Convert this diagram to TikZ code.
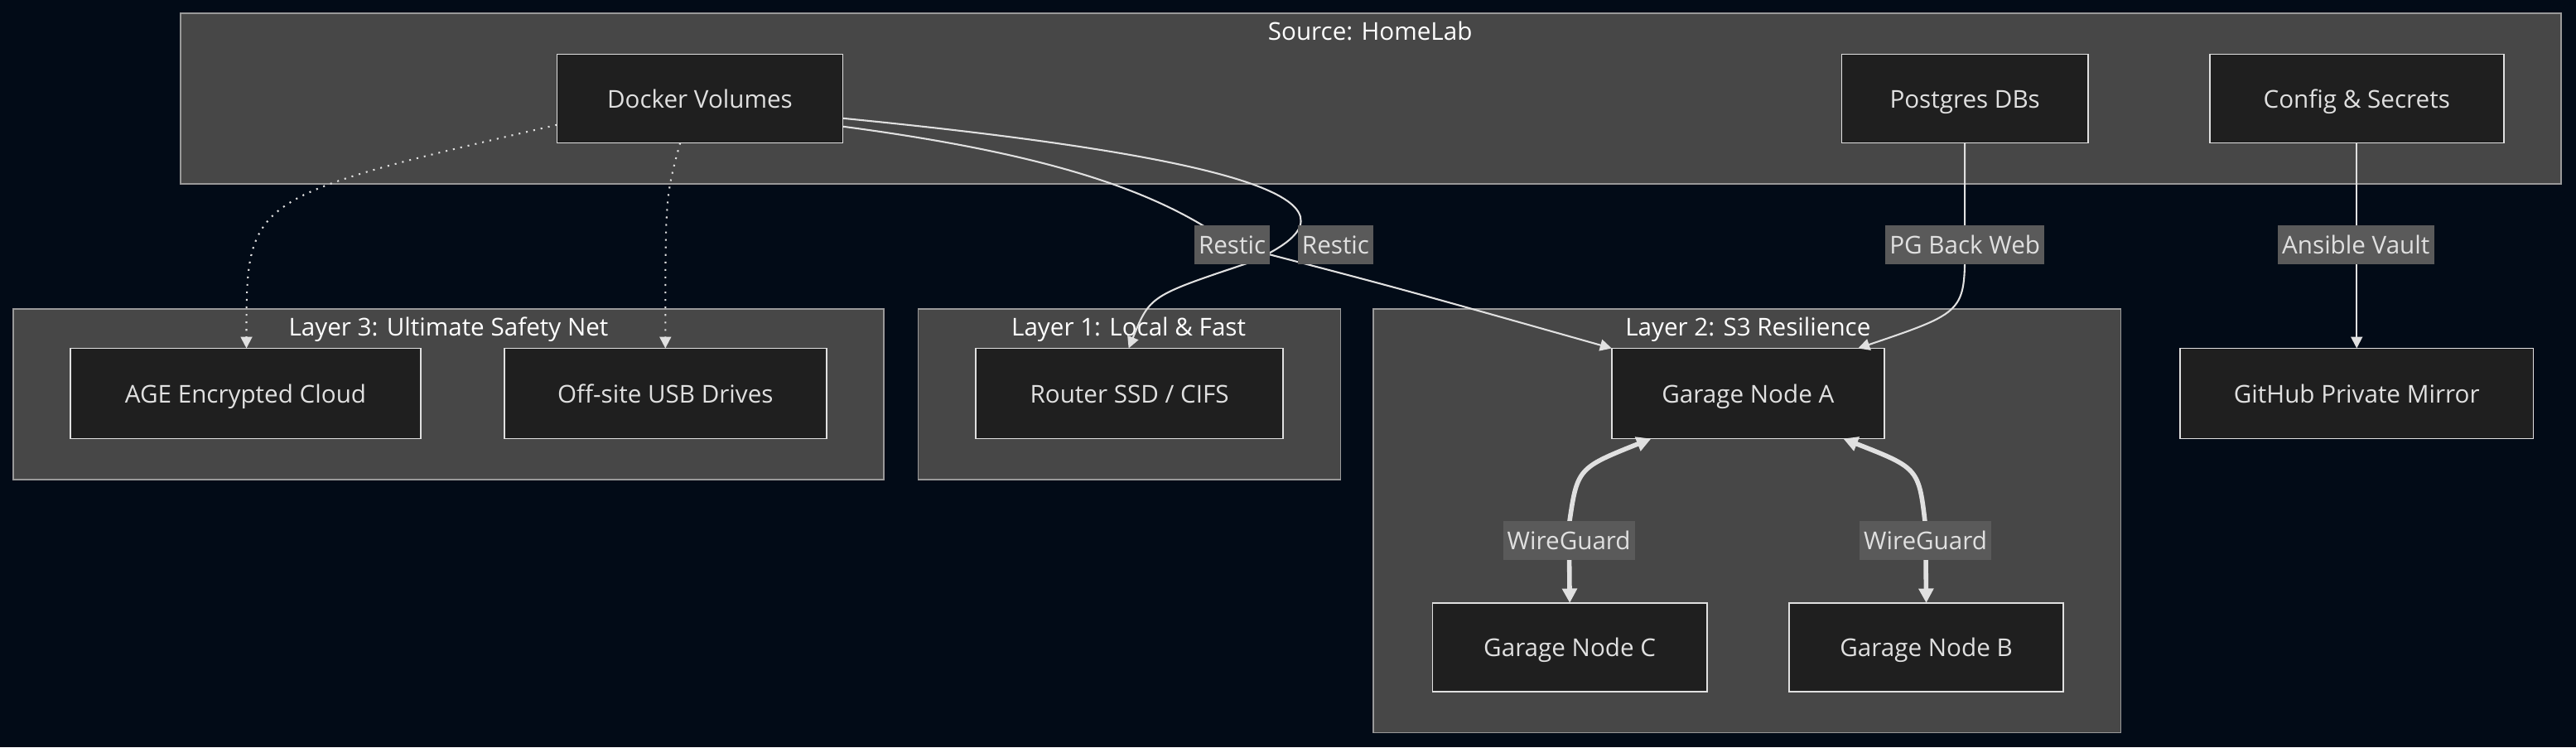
\documentclass[tikz,border=0pt]{standalone}
\usepackage{fontspec}
\setmainfont{Open Sans}
\usetikzlibrary{arrows.meta}
\definecolor{bg}{HTML}{020B17}
\definecolor{cl}{HTML}{474747}
\definecolor{nd}{HTML}{1F1F1F}
\definecolor{lb}{HTML}{5A5A5A}
\definecolor{tx}{HTML}{E0E0E0}
\begin{document}
\begin{tikzpicture}[x=0.02cm,y=-0.02cm,font=\fontsize{8.5}{10}\selectfont,
 every node/.style={text height=1.6ex,text depth=.4ex},
 clus/.style={draw=gray!80,fill=cl,line width=0.4pt},
 ctitle/.style={text=white,inner sep=0},
 box/.style={draw=tx,fill=nd,text=tx,line width=0.5pt},
 lab/.style={fill=lb,text=tx,inner sep=1.5pt},
 e/.style={draw=tx,line width=0.6pt,-{Triangle[length=4pt,width=4pt]}},
 dot/.style={e,dotted},
 wg/.style={draw=tx,line width=1.6pt,{Triangle[length=5pt,width=5pt]}-{Triangle[length=5pt,width=5pt]}}]
\fill[bg] (0,0) rectangle (1568,455);
\useasboundingbox (0,0) rectangle (1568,455);
\draw[clus] (110,8) rectangle (1559,112);
\node[ctitle] (t0) at (834,19) {Source: HomeLab};
\draw[clus] (8,188) rectangle (538,292);
\node[ctitle] (t3) at (273,199) {Layer 3: Ultimate Safety Net};
\draw[clus] (559,188) rectangle (816,292);
\node[ctitle] (t1) at (687,199) {Layer 1: Local \& Fast};
\draw[clus] (836,188) rectangle (1291,446);
\node[ctitle] (t2) at (1064,199) {Layer 2: S3 Resilience};
\newcommand\bx[6]{\draw[box] (#2,#3) rectangle (#4,#5); \node[text=tx] (#1) at ({(#2+#4)/2},{(#3+#5)/2}) {#6};
 \coordinate (#1n) at ({(#2+#4)/2},#3); \coordinate (#1s) at ({(#2+#4)/2},#5);}
\bx{dv}{339}{33}{513}{87}{Docker Volumes}
\bx{pg}{1121}{33}{1271}{87}{Postgres DBs}
\bx{cs}{1345}{33}{1524}{87}{Config \& Secrets}
\bx{age}{43}{212}{256}{267}{AGE Encrypted Cloud}
\bx{usb}{307}{212}{503}{267}{Off-site USB Drives}
\bx{rt}{594}{212}{781}{267}{Router SSD / CIFS}
\bx{ga}{981}{212}{1147}{267}{Garage Node A}
\bx{gc}{872}{367}{1039}{421}{Garage Node C}
\bx{gb}{1089}{367}{1256}{421}{Garage Node B}
\bx{gh}{1327}{212}{1542}{267}{GitHub Private Mirror}
\coordinate (dvL) at (339,76);
\coordinate (dvB) at (414,87);
\coordinate (dvR1) at (513,72);
\coordinate (dvR2) at (513,77);
\coordinate (ageT) at (150,212);
\coordinate (usbT) at (405,212);
\coordinate (rtT) at (687,212);
\coordinate (gaT1) at (981,212);
\coordinate (gaT2) at (1131,212);
\draw[dot] (dvL) .. controls (150,120) .. (ageT);
\draw[dot] (dvB) .. controls (405,120) .. (usbT);
\draw[e] (dvR1) .. controls (800,100) and (830,130) .. (760,160) .. controls (700,180) .. (rtT);
\draw[e] (dvR2) .. controls (650,95) and (710,120) .. (750,149) .. controls (850,175) .. (gaT1);
\draw[e] (pgs) -- (1196,149) .. controls (1196,190) .. (gaT2);
\draw[e] (css) -- (ghn);
\node[lab] (l1) at (750,149) {Restic};
\node[lab] (l2) at (813,149) {Restic};
\node[lab] (l3) at (1196,149) {PG Back Web};
\node[lab] (l4) at (1434,149) {Ansible Vault};
\coordinate (gaS1) at (1005,267);
\coordinate (gaS2) at (1122,267);
\draw[wg] (gaS1) .. controls (960,285) .. (955,320) -- (gcn);
\draw[wg] (gaS2) .. controls (1168,285) .. (1172,320) -- (gbn);
\node[lab] (w1) at (955,329) {WireGuard};
\node[lab] (w2) at (1172,329) {WireGuard};
\end{tikzpicture}
\end{document}
